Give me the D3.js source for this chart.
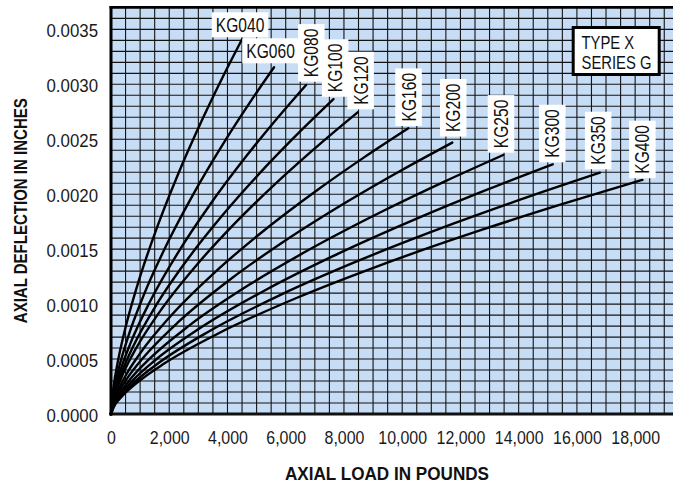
<!DOCTYPE html>
<html>
<head>
<meta charset="utf-8">
<script src="https://cdn.jsdelivr.net/npm/d3@7/dist/d3.min.js"></script>
<style>
  html, body { margin: 0; padding: 0; background: #fff; }
  svg { display: block; }
</style>
</head>
<body>
<svg id="chart" width="673" height="483"></svg>
<script>
// ---- Data ----
const seriesNames = ["KG040","KG060","KG080","KG100","KG120","KG160","KG200","KG250","KG300","KG350","KG400"];

const KG040_load = [0,23,90,225,450,900,1575,2250,3150,3825,4500];
const KG040_defl = [0,0.0000996,0.0002513,0.0004627,0.0007345,0.0011662,0.0016937,0.0021483,0.0026884,0.0030598,0.00341];
const KG060_load = [0,28,112,280,560,1120,1960,2800,3920,4760,5600];
const KG060_defl = [0,0.0000921,0.0002325,0.0004281,0.0006796,0.001079,0.001567,0.0019877,0.0024874,0.002831,0.003155];
const KG080_load = [0,34,134,335,670,1340,2345,3350,4690,5695,6700];
const KG080_defl = [0,0.0000874,0.0002207,0.0004063,0.0006449,0.0010239,0.0014871,0.0018862,0.0023605,0.0026865,0.002994];
const KG100_load = [0,38,153,382,764,1528,2674,3820,5348,6494,7640];
const KG100_defl = [0,0.0000837,0.0002112,0.0003889,0.0006173,0.0009802,0.0014235,0.0018056,0.0022596,0.0025717,0.002866];
const KG120_load = [0,42,169,424,847,1694,2965,4235,5929,7200,8470];
const KG120_defl = [0,0.0000802,0.0002023,0.0003725,0.0005913,0.0009388,0.0013634,0.0017294,0.0021642,0.0024631,0.002745];
const KG160_load = [0,51,204,511,1021,2042,3574,5105,7147,8679,10210];
const KG160_defl = [0,0.0000759,0.0001916,0.0003528,0.00056,0.0008892,0.0012914,0.001638,0.0020498,0.002333,0.0026];
const KG200_load = [0,59,234,586,1172,2344,4102,5860,8204,9962,11720];
const KG200_defl = [0,0.0000721,0.000182,0.0003352,0.000532,0.0008447,0.0012268,0.0015561,0.0019473,0.0022163,0.00247];
const KG250_load = [0,67,269,674,1347,2694,4715,6735,9429,11450,13470];
const KG250_defl = [0,0.0000688,0.0001737,0.0003198,0.0005077,0.0008061,0.0011707,0.0014849,0.0018583,0.0021149,0.002357];
const KG300_load = [0,76,303,759,1517,3034,5310,7585,10619,12895,15170];
const KG300_defl = [0,0.0000663,0.0001674,0.0003083,0.0004894,0.000777,0.0011285,0.0014314,0.0017912,0.0020387,0.002272];
const KG350_load = [0,84,336,840,1679,3358,5877,8395,11753,14272,16790];
const KG350_defl = [0,0.0000641,0.0001618,0.000298,0.000473,0.000751,0.0010908,0.0013835,0.0017313,0.0019705,0.002196];
const KG400_load = [0,91,365,913,1825,3650,6388,9125,12775,15513,18250];
const KG400_defl = [0,0.0000622,0.000157,0.000289,0.0004588,0.0007285,0.001058,0.0013419,0.0016793,0.0019112,0.00213];

const loadTicks = [0,2000,4000,6000,8000,10000,12000,14000,16000,18000];
const loadTickLabels = ["0","2,000","4,000","6,000","8,000","10,000","12,000","14,000","16,000","18,000"];
const deflTicks = [0,0.0005,0.001,0.0015,0.002,0.0025,0.003,0.0035];
const deflTickLabels = ["0.0000","0.0005","0.0010","0.0015","0.0020","0.0025","0.0030","0.0035"];

const xTitle = "AXIAL LOAD IN POUNDS";
const yTitle = "AXIAL DEFLECTION IN INCHES";
const boxLines = ["TYPE X","SERIES G"];

// ---- Build ----
(function () {
const seriesLoads = [KG040_load,KG060_load,KG080_load,KG100_load,KG120_load,KG160_load,KG200_load,KG250_load,KG300_load,KG350_load,KG400_load];
const seriesDefls = [KG040_defl,KG060_defl,KG080_defl,KG100_defl,KG120_defl,KG160_defl,KG200_defl,KG250_defl,KG300_defl,KG350_defl,KG400_defl];
// label layout offsets (pixels) relative to each curve's end point
const labelDx = [-2, -3.5, 5, 1.4, 2.8, 0, 0.7, -2.5, -0.7, -2, -0.3];
const labelDy = [-2, -4, -3.3, -2.3, -3, -2.3, -6, -2.3, -2, -3.4, -1.7];
const series = seriesNames.map((n,i) => ({
  name: n,
  idx: i,
  horizontal: i < 2,
  pts: seriesLoads[i].map((L,j) => [L, seriesDefls[i][j]])
}));

const FONT = "'Liberation Sans Narrow','Arial Narrow','Liberation Sans',Arial,sans-serif";
// condense text horizontally (narrow typeface look)
function condense(sel, f) {
  sel.each(function () {
    const w = this.getComputedTextLength();
    d3.select(this).attr("textLength", (w * f).toFixed(2)).attr("lengthAdjust", "spacingAndGlyphs");
  });
}
const svg = d3.select("#chart");
const pLeft = 111, pRight = 673, pTop = 7.4, pBottom = 414;

const x = d3.scaleLinear().domain([0, 19300]).range([pLeft, pRight]);
const y = d3.scaleLinear().domain([0, 0.0037]).range([pBottom, pTop]);

// plot background
svg.append("rect").attr("x", pLeft).attr("y", pTop).attr("width", pRight-pLeft).attr("height", pBottom-pTop)
  .attr("fill", "#c6ddf5");

// grid
const gGrid = svg.append("g").attr("stroke", "#141414").attr("stroke-width", 1.1);
gGrid.selectAll("line.v").data(d3.range(500, 19300, 500)).join("line")
  .attr("class","v").attr("x1", d=>x(d)).attr("x2", d=>x(d)).attr("y1", pTop).attr("y2", pBottom);
gGrid.selectAll("line.h").data(d3.range(1, 37).map(k => k*0.0001)).join("line")
  .attr("class","h").attr("y1", d=>y(d)).attr("y2", d=>y(d)).attr("x1", pLeft).attr("x2", pRight);

// borders
svg.append("line").attr("x1", pLeft-1.5).attr("x2", pRight).attr("y1", pTop).attr("y2", pTop)
  .attr("stroke","#000").attr("stroke-width",2.6);
svg.append("line").attr("x1", pLeft).attr("x2", pLeft).attr("y1", pTop-1.3).attr("y2", pBottom+1.5)
  .attr("stroke","#000").attr("stroke-width",3);
svg.append("line").attr("x1", pLeft-1.5).attr("x2", pRight).attr("y1", pBottom).attr("y2", pBottom)
  .attr("stroke","#111").attr("stroke-width",3);

// curves
const line = d3.line().x(d=>x(d[0])).y(d=>y(d[1])).curve(d3.curveMonotoneX);
svg.append("g").selectAll("path").data(series).join("path")
  .attr("d", d=>line(d.pts)).attr("fill","none").attr("stroke","#000")
  .attr("stroke-width",2.4).attr("stroke-linecap","round");

// series labels (vertical first, horizontal on top)
const LF = 0.8;
const ordered = series.filter(s => !s.horizontal).concat(series.filter(s => s.horizontal));
ordered.forEach(s => {
  const end = s.pts[s.pts.length-1];
  const ex = x(end[0]) + labelDx[s.idx], ey = y(end[1]) + labelDy[s.idx];
  if (s.horizontal) {
    const g = svg.append("g").attr("transform", `translate(${ex},${ey})`);
    const rect = g.append("rect").attr("fill","#fff");
    const t = g.append("text").text(s.name).attr("text-anchor","middle").attr("x",0).attr("y",-5.5)
      .attr("font-family",FONT).attr("font-size",19.5).attr("fill","#111");
    const w = t.node().getComputedTextLength() * LF + 8;
    condense(t, LF);
    rect.attr("x",-w/2).attr("y",-25).attr("width",w).attr("height",25);
  } else {
    const g = svg.append("g").attr("transform", `translate(${ex},${ey}) rotate(-90)`);
    const rect = g.append("rect").attr("fill","#fff");
    const t = g.append("text").text(s.name).attr("x",4.5).attr("y",7.2)
      .attr("font-family",FONT).attr("font-size",19.5).attr("fill","#111");
    const w = t.node().getComputedTextLength() * LF + 9;
    condense(t, LF);
    rect.attr("x",0).attr("y",-13).attr("width",w).attr("height",26.5);
  }
});

// Type box
const bx = 571.7, byy = 26, bw = 89, bh = 50;
svg.append("rect").attr("x",bx+1.5).attr("y",byy+1.5).attr("width",bw-3).attr("height",bh-3)
  .attr("fill","#fff").attr("stroke","#000").attr("stroke-width",3);
svg.append("g").selectAll("text").data(boxLines).join("text")
  .attr("x", 581.5).attr("y",(d,i)=> 48.5 + i*20).text(d=>d)
  .attr("font-family",FONT).attr("font-size",19).attr("fill","#111")
  .call(condense, 0.78);

// axes (labels only)
const xAxis = d3.axisBottom(x).tickValues(loadTicks).tickFormat((d,i)=>loadTickLabels[i]).tickSize(0).tickPadding(0);
const gx = svg.append("g").attr("transform",`translate(0,${pBottom})`).call(xAxis);
gx.select(".domain").remove();
gx.selectAll("text").attr("dy",null).attr("y",30).attr("font-family",FONT).attr("font-size",18.5).attr("fill","#1a1a1a")
  .call(condense, 0.86);

const yAxis = d3.axisLeft(y).tickValues(deflTicks).tickFormat((d,i)=>deflTickLabels[i]).tickSize(0).tickPadding(0);
const gy = svg.append("g").attr("transform",`translate(${pLeft},0)`).call(yAxis);
gy.select(".domain").remove();
gy.selectAll("text").attr("dy",null).attr("x",-13).attr("y",7.5).attr("font-family",FONT).attr("font-size",18.5).attr("fill","#1a1a1a")
  .call(condense, 0.91);

// titles
svg.append("text").text(xTitle).attr("x",387).attr("y",480).attr("text-anchor","middle")
  .attr("font-family",FONT).attr("font-weight","bold").attr("font-size",18).attr("fill","#111")
  .attr("textLength",204).attr("lengthAdjust","spacingAndGlyphs");
svg.append("text").text(yTitle).attr("transform","translate(27,210.7) rotate(-90)").attr("text-anchor","middle")
  .attr("font-family",FONT).attr("font-weight","bold").attr("font-size",18.5).attr("fill","#111")
  .attr("textLength",225).attr("lengthAdjust","spacingAndGlyphs");
})();
</script>
</body>
</html>
